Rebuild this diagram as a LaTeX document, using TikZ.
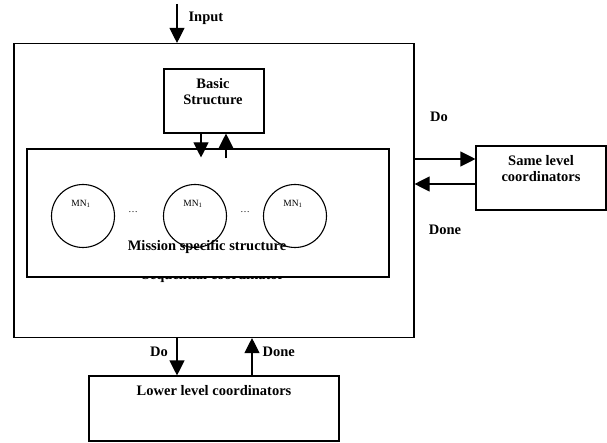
\documentclass[tikz,border=0pt]{standalone}
\usepackage{fontspec}
\setmainfont{Liberation Serif}
\usetikzlibrary{arrows.meta,calc}

\tikzset{
  box/.style={draw, line width=1.1pt, fill=white, inner sep=0pt},
  lbl/.style={font=\fontsize{14.5}{16}\selectfont\bfseries, align=center, inner sep=0pt},
  mn/.style={draw, line width=1.1pt, circle, minimum size=63pt, inner sep=0pt},
  small/.style={font=\fontsize{9.5}{11}\selectfont, inner sep=0pt},
}

\begin{document}
\begin{tikzpicture}[x=1pt,y=-1pt,>={Triangle[width=15pt,length=15pt]},line width=1.1pt]

\useasboundingbox (0,0) rectangle (607,443);

% outer coordinator
\node[box, minimum width=400pt, minimum height=294pt] (main) at (214,190.5) {};
\node[lbl] (seq) at (213,276) {Sequential coordinator};

\node[box, minimum width=100pt, minimum height=64pt] (basic) at (214,101) {};
\node[lbl] (basictxt) at (213,92) {Basic\\Structure};

\node[box, minimum width=362pt, minimum height=128pt] (mission) at (208,213) {};

% mission nodes
\foreach \i/\x in {a/83,b/195,c/295} {
    \node[mn] (mn\i) at (\x,216) {};
    \node[small] (mnl\i) at (\x-2,204) {MN\textsubscript{1}};
  }
\node[small] (dots1) at (133,212) {\ldots};
\node[small] (dots2) at (245,212) {\ldots};
\node[lbl] (misstxt) at (207,247) {Mission specific structure};

\node[box, minimum width=130pt, minimum height=64pt] (same) at (541,178) {};
\node[lbl] (sametxt) at (541,169) {Same level\\coordinators};

\node[box, minimum width=250pt, minimum height=65pt] (lower) at (214,408.5) {};
\node[lbl] (lowertxt) at (214,391) {Lower level coordinators};

% input
\coordinate (in) at (177,4);
\draw[->] (in) -- (in |- main.north);
\node[lbl, anchor=west] (inlbl) at (188,18) {Input};

% basic <-> mission
\draw[->] ([xshift=-13pt]basic.south) -- ([xshift=-13pt,yshift=-9pt]basic.south |- mission.north);
\draw[->] ([xshift=12pt,yshift=-10pt]basic.south |- mission.north) -- ([xshift=12pt]basic.south);

% same level
\coordinate (doy) at (0,159);
\coordinate (doney) at (0,184);
\draw[->] (main.east |- doy) -- (same.west |- doy);
\draw[->] (same.west |- doney) -- (main.east |- doney);
\node[lbl] (dor) at (439,117) {Do};
\node[lbl] (doner) at (445,230) {Done};

% lower level
\coordinate (dox) at (177,0);
\coordinate (donex) at (252,0);
\draw[->] (dox |- main.south) -- (dox |- lower.north);
\draw[->] (donex |- lower.north) -- (donex |- main.south);
\node[lbl] (dob) at (159,352) {Do};
\node[lbl, anchor=west] (doneb) at (262,352) {Done};

\end{tikzpicture}
\end{document}
